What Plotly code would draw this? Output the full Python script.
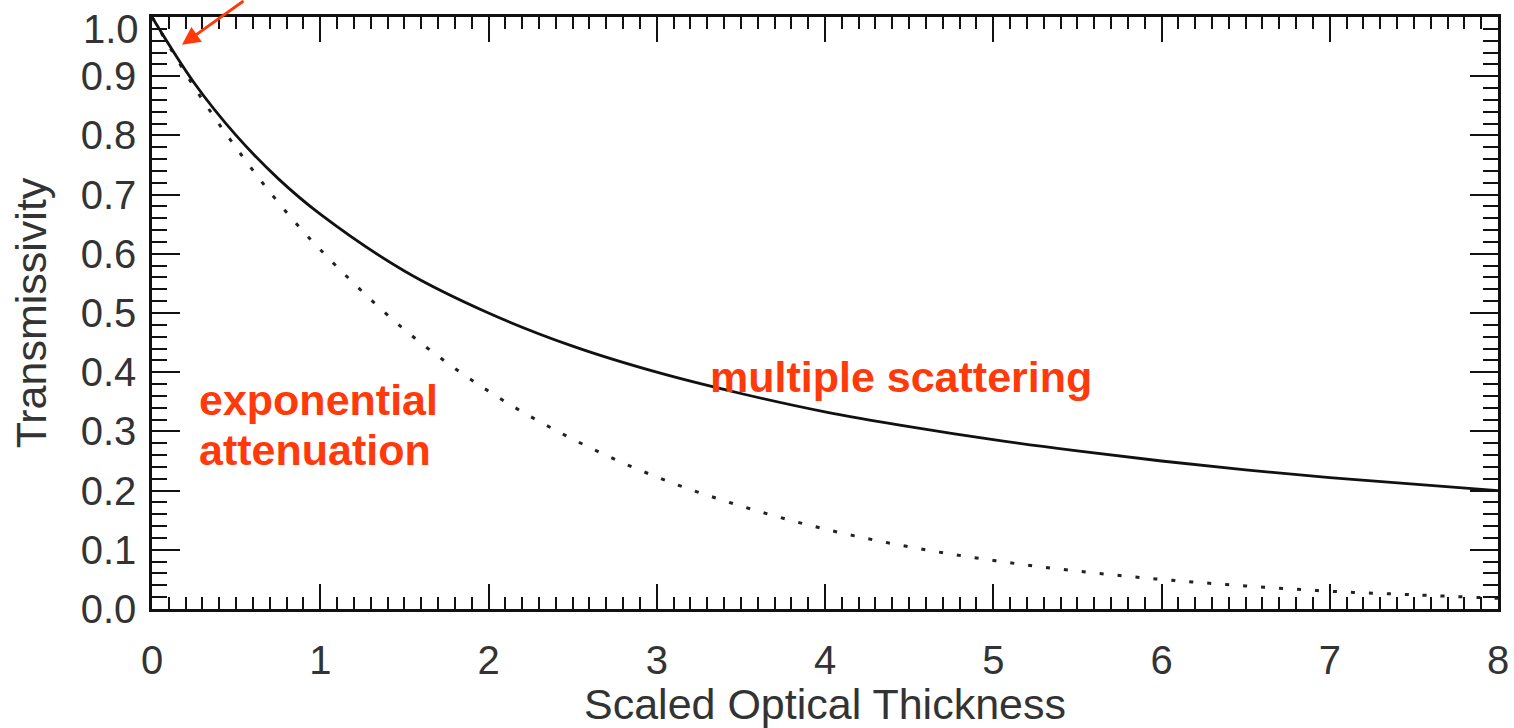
import plotly.graph_objects as go

# Scaled optical thickness samples
tau = [0.0, 0.25, 0.5, 0.75, 1.0, 1.5, 2.0, 2.5, 3.0, 3.5, 4.0, 4.5, 5.0, 5.5, 6.0, 6.5, 7.0, 7.5, 8.0]
# Multiple scattering transmissivity (solid)
t_multiple = [1.0, 0.889, 0.800, 0.727, 0.667, 0.571, 0.500, 0.444, 0.400, 0.364, 0.333, 0.308,
              0.286, 0.267, 0.250, 0.235, 0.222, 0.211, 0.200]
# Exponential attenuation (dotted)
t_exponential = [1.0, 0.882, 0.779, 0.687, 0.607, 0.472, 0.368, 0.287, 0.223, 0.174, 0.135, 0.105,
                 0.082, 0.064, 0.050, 0.039, 0.030, 0.024, 0.018]

x_ticks = [0, 1, 2, 3, 4, 5, 6, 7, 8]
y_ticks = [0.0, 0.1, 0.2, 0.3, 0.4, 0.5, 0.6, 0.7, 0.8, 0.9, 1.0]
y_ticklabels = ["0.0", "0.1", "0.2", "0.3", "0.4", "0.5", "0.6", "0.7", "0.8", "0.9", "1.0"]

RED = "#FF3A0A"
FONT = "Liberation Sans, Arial, sans-serif"

# the top label (1.0) is nudged down inside the page, as in the reference
axis_text = y_ticklabels[:-1] + [""]

fig = go.Figure()
fig.add_trace(go.Scatter(x=tau, y=t_exponential, mode="lines", line=dict(color="#222", width=3, dash="4px,14px", shape="spline"), showlegend=False))
fig.add_trace(go.Scatter(x=tau, y=t_multiple, mode="lines", line=dict(color="#111", width=2.8, shape="spline"), showlegend=False))

fig.update_layout(
    width=1514, height=728,
    margin=dict(l=152, r=16, t=17, b=119),
    paper_bgcolor="white", plot_bgcolor="white",
    font=dict(family=FONT, color="#333", size=40),
    xaxis=dict(range=[0, 8], tickvals=x_ticks, ticks="inside", ticklen=25, tickwidth=2, tickcolor="#111",
               showline=True, linecolor="#111", linewidth=2.5, mirror="allticks", showgrid=False, zeroline=False,
               minor=dict(dtick=0.1, ticks="inside", ticklen=12, tickwidth=2, tickcolor="#111", showgrid=False),
               tickfont=dict(size=40, color="#333"), ticklabelstandoff=14, ticklabeloverflow="allow", automargin=False,
               title=dict(text="Scaled Optical Thickness", font=dict(size=43, color="#333"), standoff=10)),
    yaxis=dict(range=[0, 1], tickvals=y_ticks, ticktext=axis_text, ticks="inside", ticklen=28, tickwidth=2, tickcolor="#111",
               showline=True, linecolor="#111", linewidth=2.5, mirror="allticks", showgrid=False, zeroline=False,
               minor=dict(dtick=0.02, ticks="inside", ticklen=15, tickwidth=2, tickcolor="#111", showgrid=False),
               tickfont=dict(size=40, color="#333"), ticklabelstandoff=5, ticklabeloverflow="allow", automargin=False,
               title=dict(text="Transmissivity", font=dict(size=43, color="#333"), standoff=21)),
)

fig.add_annotation(x=0, y=y_ticks[-1], xref="paper", yref="y", text=y_ticklabels[-1], showarrow=False,
                   xanchor="right", yanchor="top", xshift=-11, yshift=12, font=dict(size=40, color="#333", family=FONT))

fig.add_annotation(x=0.27, y=0.353, xref="x", yref="y", text="<b>exponential</b>", showarrow=False,
                   xanchor="left", yanchor="middle", font=dict(size=43, color=RED, family=FONT))
fig.add_annotation(x=0.27, y=0.269, xref="x", yref="y", text="<b>attenuation</b>", showarrow=False,
                   xanchor="left", yanchor="middle", font=dict(size=43, color=RED, family=FONT))
fig.add_annotation(x=4.453, y=0.392, xref="x", yref="y", text="<b>multiple scattering</b>", showarrow=False,
                   xanchor="center", yanchor="middle", font=dict(size=43, color=RED, family=FONT))
fig.add_annotation(x=0.178, y=0.953, xref="x", yref="y", text="", showarrow=True, arrowhead=2, arrowsize=1.2,
                   arrowwidth=3, arrowcolor=RED, ax=63, ay=-58)

fig.write_html("out.html")
